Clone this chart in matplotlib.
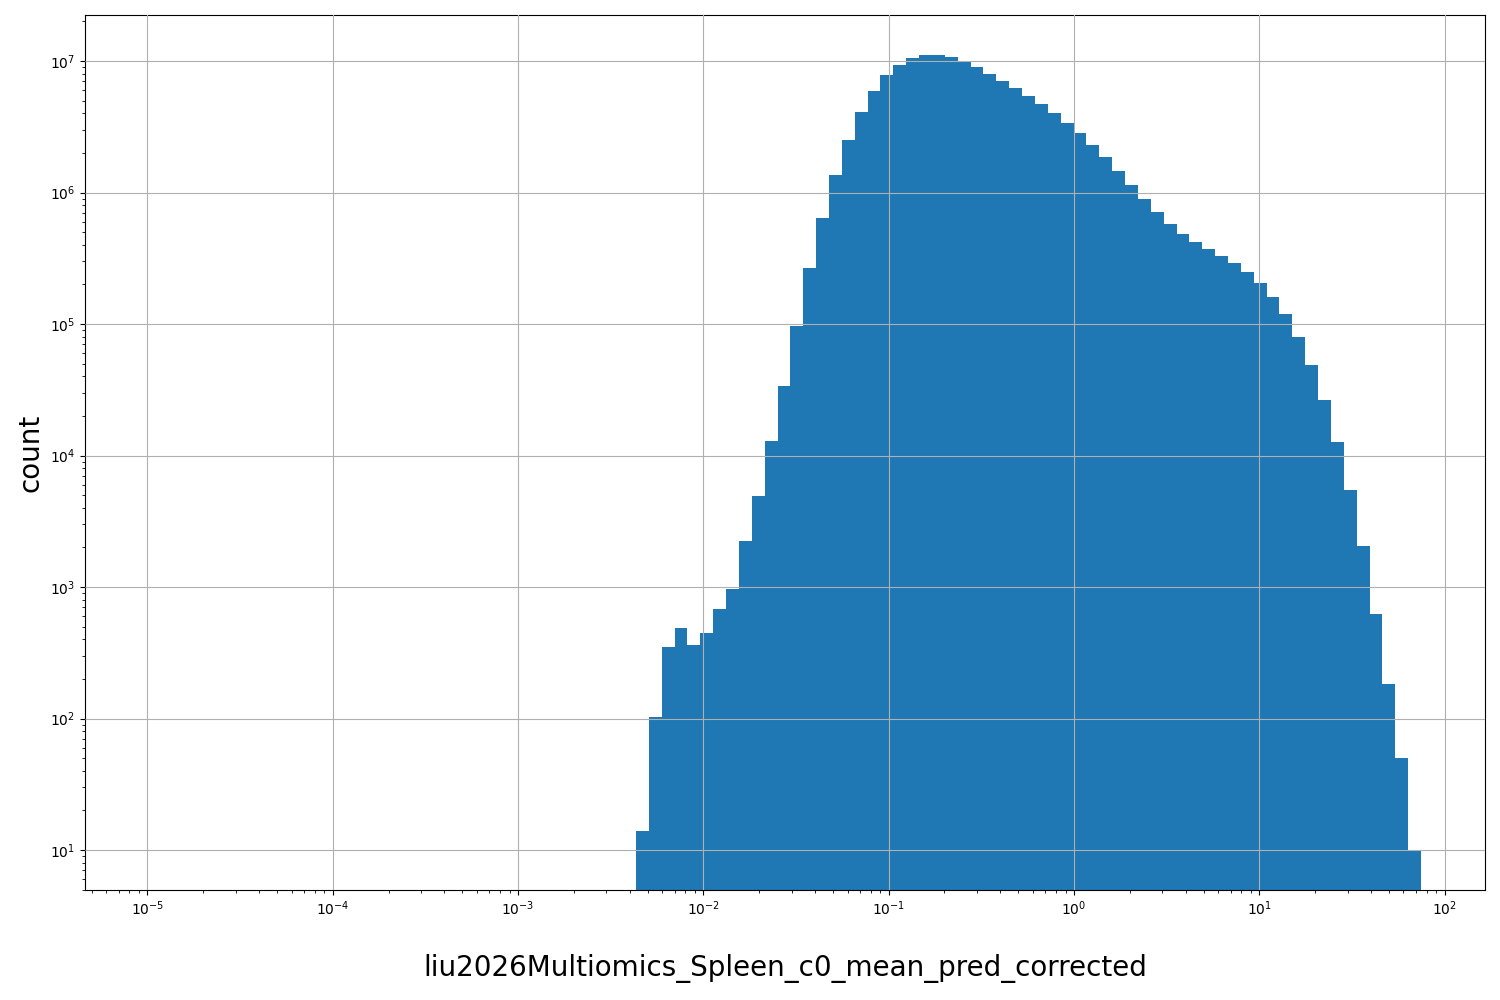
import numpy as np
import matplotlib
matplotlib.use("Agg")
import matplotlib.pyplot as plt

log_min, log_max = -2.364, 1.873
counts = [14, 103, 350, 490, 365, 445, 680, 960, 2250, 4900, 13000, 33800, 96000,
          265000, 640000, 1.37e6, 2.5e6, 4.1e6, 5.9e6, 7.8e6, 9.4e6, 1.06e7, 1.12e7,
          1.12e7, 1.08e7, 9.9e6, 9.0e6, 7.9e6, 7.0e6, 6.2e6, 5.4e6, 4.7e6, 4.0e6,
          3.35e6, 2.85e6, 2.3e6, 1.85e6, 1.45e6, 1.14e6, 9.0e5, 7.1e5, 5.8e5, 4.8e5,
          4.2e5, 3.7e5, 3.3e5, 2.9e5, 2.5e5, 2.05e5, 1.6e5, 1.19e5, 8.0e4, 4.9e4,
          2.65e4, 1.27e4, 5500, 2050, 620, 183, 50, 10]

edges = np.logspace(log_min, log_max, len(counts) + 1)
centers = np.sqrt(edges[:-1] * edges[1:])

fig = plt.figure(figsize=(15, 10), dpi=100)
ax = fig.add_axes([85/1500, 110/1000, 1400/1500, 875/1000])
ax.hist(centers, bins=edges, weights=counts, color="#1f77b4")
ax.set_xscale("log")
ax.set_yscale("log")
ax.set_xlim(10**-5.337, 10**2.218)
ax.set_ylim(4.97, 10**7.35)
ax.grid(True, color="#b0b0b0")
ax.set_axisbelow(False)
ax.set_xlabel("liu2026Multiomics_Spleen_c0_mean_pred_corrected", fontsize=20, labelpad=26)
ax.set_ylabel("count", fontsize=20)
fig.savefig("out.png", dpi=100)
